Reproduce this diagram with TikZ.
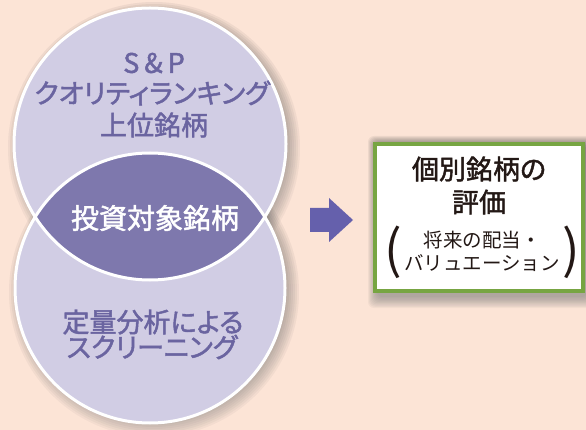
\documentclass[tikz,border=0pt]{standalone}
\usepackage{fontspec}
\setmainfont{Noto Sans CJK JP}
\newfontfamily\medium[FakeBold=1.7, RawFeature=+palt]{Noto Sans CJK JP}
\definecolor{peach}{HTML}{FCE4D6}
\definecolor{lilac}{HTML}{D1CDE4}
\definecolor{lens}{HTML}{7E78AD}
\definecolor{ink}{HTML}{6A64A0}
\definecolor{arrowblue}{HTML}{6560AC}
\definecolor{leaf}{HTML}{77A542}
\definecolor{dark}{HTML}{231815}
\definecolor{shade}{HTML}{5A4640}
\begin{document}
\begin{tikzpicture}[x=1pt, y=-1pt,
		circtext/.style={text=ink, font=\fontsize{27}{30}\medium, inner sep=0pt},
		lenstext/.style={text=white, font=\fontsize{28}{30}\medium, inner sep=0pt},
		boxtitle/.style={text=dark, font=\fontsize{27}{30}\medium, inner sep=0pt},
		boxsmall/.style={text=dark, font=\fontsize{19.5}{22}\selectfont, inner sep=0pt},
		paren/.style={text=dark, font=\fontsize{52}{52}\selectfont, inner sep=0pt}]

		\useasboundingbox[fill=peach] (0,0) rectangle (586,430);

		% soft shadows
		\foreach \r in {1,...,10} {
			\fill[shade, opacity=0.035] (154,148) circle (126+2*\r);
			\fill[shade, opacity=0.035] (154,292) circle (125+2*\r);
			\fill[shade, opacity=0.04, rounded corners=6pt] (378-\r,146-\r) rectangle (586+\r,296+1.2*\r);
		}

		% circles and lens
		\fill[lilac] (150,144) circle (136);
		\fill[lilac] (150,288) circle (135);
		\begin{scope}
			\clip (150,144) circle (136);
			\fill[lens] (150,288) circle (135);
		\end{scope}
		\draw[white, line width=3pt] (150,144) circle (136);
		\draw[white, line width=3pt] (150,288) circle (135);

		\node[circtext] (sp) at (154,63) {S\hspace{5pt}\&\hspace{5pt}P};
		\node[circtext] (quality) at (152,93) {クオリティランキング};
		\node[circtext] (upper) at (154,125) {上位銘柄};
		\node[lenstext] (target) at (155,218) {投資対象銘柄};
		\node[circtext] (quant) at (153,322) {定量分析による};
		\node[circtext] (screen) at (152,347) {スクリーニング};

		% arrow
		\fill[arrowblue] (310,208) -- (329,208) -- (329,198) -- (353,220)
			-- (329,242) -- (329,232) -- (310,232) -- cycle;

		% evaluation box
		\node[draw=leaf, line width=4pt, fill=white, minimum width=208pt,
			minimum height=147pt, inner sep=0pt] (eval) at (479,217.5) {};
		\node[boxtitle] (title) at (479,169) {個別銘柄の};
		\node[boxtitle] (value) at (479,202) {評価};
		\node[boxsmall] (future) at (482,240) {将来の配当・};
		\node[boxsmall] (valuation) at (482,263) {バリュエーション};
		\node[paren] (lp) at (393,252) {(};
		\node[paren] (rp) at (571,252) {)};

	\end{tikzpicture}
\end{document}
